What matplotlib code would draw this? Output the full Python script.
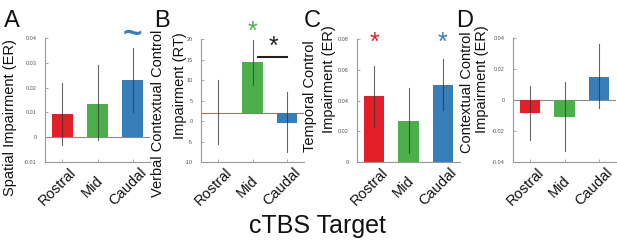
import matplotlib
matplotlib.use("Agg")
import matplotlib.pyplot as plt
import matplotlib.transforms as mtransforms
from matplotlib.ticker import FuncFormatter

plt.rcParams['font.family'] = ['Liberation Sans', 'DejaVu Sans']

# data
targets = ['Rostral', 'Mid', 'Caudal']
colors = ['#e41e26', '#4daf4a', '#377eb8']

spatial = [0.0095, 0.0135, 0.023]
spatial_lo = [-0.003, -0.001, 0.010]
spatial_hi = [0.022, 0.029, 0.036]

verbal = [2.0, 14.5, -0.6]
verbal_lo = [-5.5, 8.8, -7.6]
verbal_hi = [10.0, 19.8, 7.1]

temporal = [0.043, 0.0267, 0.050]
temporal_lo = [0.0228, 0.006, 0.034]
temporal_hi = [0.0625, 0.048, 0.067]

contextual = [-0.0084, -0.011, 0.015]
contextual_lo = [-0.026, -0.033, -0.005]
contextual_hi = [0.009, 0.0116, 0.036]

W, H = 617, 241
fig = plt.figure(figsize=(W / 100, H / 100), dpi=100)


def px_axes(left, top, right, bottom):
    return fig.add_axes([left / W, 1 - bottom / H, (right - left) / W, (bottom - top) / H])


def fmt(v, pos):
    return '%g' % round(v, 4)


def panel(ax, vals, lo, hi, ylim, yticks, base=0):
    x = [1, 2, 3]
    heights = [v - base for v in vals]
    ax.bar(x, heights, bottom=base, width=0.6, color=colors, zorder=2)
    for xi, l, h in zip(x, lo, hi):
        ax.plot([xi, xi], [l, h], color='#333333', lw=0.8, alpha=0.75, zorder=3)
    ax.axhline(base, color='#8a8a8a' if base == 0 else '#b07060', lw=0.8, zorder=1)
    ax.set_xlim(0.5, 3.5)
    ax.set_ylim(*ylim)
    ax.set_yticks(yticks)
    ax.yaxis.set_major_formatter(FuncFormatter(fmt))
    ax.set_xticks(x)
    ax.set_xticklabels([])
    for s in ['top', 'right']:
        ax.spines[s].set_visible(False)
    for s in ['left', 'bottom']:
        ax.spines[s].set_color('#999999')
        ax.spines[s].set_linewidth(0.8)
    ax.tick_params(direction='in', length=2, width=0.6, color='#999999',
                   labelsize=4, labelcolor='#555555', pad=6)
    tr = mtransforms.offset_copy(ax.get_xaxis_transform(), fig=fig, x=-5, y=-25, units='dots')
    for xi, name in zip(x, targets):
        ax.text(xi, 0, name, transform=tr, rotation=45, rotation_mode='anchor',
                ha='center', va='center', fontsize=10.5, color='#111111')


axA = px_axes(45, 38, 150, 162)
panel(axA, spatial, spatial_lo, spatial_hi, (-0.01, 0.04), [-0.01, 0, 0.01, 0.02, 0.03, 0.04])
axA.text(3, 0.0415, '~', ha='center', va='center', fontsize=24, color=colors[2],
         fontweight='bold', clip_on=False)

axB = px_axes(201, 39, 304, 162)
panel(axB, verbal, verbal_lo, verbal_hi, (-10, 20), [-10, -5, 0, 5, 10, 15, 20], base=2)
axB.text(2, 21.7, '*', ha='center', va='center', fontsize=18, color=colors[1], clip_on=False)
axB.plot([2.16, 3.0], [15.6, 15.6], color='#222222', lw=1.5, clip_on=False)
axB.text(2.6, 18.0, '*', ha='center', va='center', fontsize=18, color='#222222', clip_on=False)

axC = px_axes(357, 39, 460, 162)
panel(axC, temporal, temporal_lo, temporal_hi, (0, 0.08), [0, 0.02, 0.04, 0.06, 0.08])
axC.text(1, 0.0774, '*', ha='center', va='center', fontsize=18, color=colors[0], clip_on=False)
axC.text(3, 0.0774, '*', ha='center', va='center', fontsize=18, color=colors[2], clip_on=False)

axD = px_axes(513, 38, 616, 162)
panel(axD, contextual, contextual_lo, contextual_hi, (-0.04, 0.04), [-0.04, -0.02, 0, 0.02, 0.04])

# y labels, placed line by line as in the figure
def ylab(xc, yc, s):
    fig.text(xc / W, 1 - yc / H, s, rotation=90, ha='center', va='center', fontsize=10.5,
             color='#111111')

ylab(10, 118, 'Spatial Impairment (ER)')
ylab(158, 113, 'Verbal Contextual Control')
ylab(180, 86, 'Impairment (RT)')
ylab(310, 96, 'Temporal Control')
ylab(329, 79, 'Impairment (ER)')
ylab(467, 92, 'Contextual Control')
ylab(482, 79, 'Impairment (ER)')

for xl, letter in [(4, 'A'), (154, 'B'), (304, 'C'), (456, 'D')]:
    fig.text(xl / W, 1 - 27 / H, letter, fontsize=17, va='baseline', ha='left', color='#111111')

fig.text(317 / W, 1 - 226 / H, 'cTBS Target', fontsize=18, ha='center', va='center',
         color='#111111')

fig.savefig('out.png', dpi=100)
